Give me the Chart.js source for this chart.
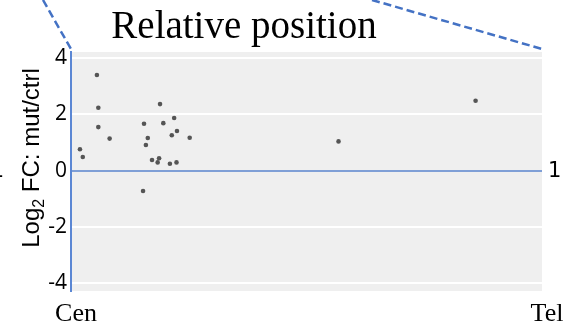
<!DOCTYPE html>
<html>
<head>
<meta charset="utf-8">
<script src="https://cdn.jsdelivr.net/npm/chart.js@4/dist/chart.umd.min.js"></script>
<style>
  html, body { margin: 0; padding: 0; background: #ffffff; }
  #wrap { width: 574px; height: 330px; }
</style>
</head>
<body>
<div id="wrap"><canvas id="c" width="574" height="330"></canvas></div>
<script>
// Relative position along the chromosome (0 = centromere, 1 = telomere)
const relPosition = [0.019, 0.025, 0.055, 0.058, 0.058, 0.082, 0.155, 0.163, 0.159, 0.153,
                     0.172, 0.184, 0.187, 0.189, 0.196, 0.214, 0.219, 0.225, 0.210, 0.224,
                     0.252, 0.568, 0.859];
// Log2 fold change, mutant vs control
const log2FC = [0.76, 0.48, 3.41, 2.24, 1.55, 1.14, 1.67, 1.16, 0.91, -0.73,
                0.375, 0.29, 0.44, 2.37, 1.69, 1.26, 1.875, 1.41, 0.24, 0.29,
                1.17, 1.04, 2.49];
const yTickValues = [-4, -2, 0, 2, 4];
const endLabels = ['Cen', 'Tel'];
const titleText = 'Relative position';
const baselineLabel = '1';

const BLUE = '#4472c4';

const decorPlugin = {
  id: 'decor',
  beforeDraw(chart) {
    const { ctx, chartArea: a } = chart;
    ctx.save();
    ctx.fillStyle = '#efefef';
    ctx.fillRect(a.left, a.top, a.right - a.left, a.bottom - a.top);
    ctx.restore();
  },
  afterDraw(chart) {
    const { ctx, chartArea: a } = chart;
    const y0 = chart.scales.y.getPixelForValue(0);
    ctx.save();

    // zoom-out guide lines
    ctx.strokeStyle = BLUE;
    ctx.lineWidth = 2.5;
    ctx.setLineDash([8, 4]);
    ctx.beginPath();
    ctx.moveTo(43, 0);
    ctx.lineTo(a.left, a.top - 3);
    ctx.moveTo(372, 0);
    ctx.lineTo(a.right, a.top - 3);
    ctx.stroke();
    ctx.setLineDash([]);

    // title
    ctx.fillStyle = '#000';
    ctx.font = '39px "Liberation Serif", serif';
    ctx.textAlign = 'center';
    ctx.textBaseline = 'alphabetic';
    ctx.fillText(titleText, 244, 38);

    // fold-change reference label on both sides of the zero line
    ctx.font = '21px "DejaVu Sans", sans-serif';
    ctx.textBaseline = 'middle';
    ctx.textAlign = 'right';
    ctx.fillText(baselineLabel, 4, y0 + 1);
    ctx.textAlign = 'left';
    ctx.fillText(baselineLabel, 548, y0 + 1);

    // vertical axis title with subscript
    ctx.translate(39, 158);
    ctx.rotate(-Math.PI / 2);
    const big = '24px "Liberation Sans", Arial, sans-serif';
    const small = '16px "Liberation Sans", Arial, sans-serif';
    const parts = [['Log', big, 0], ['2', small, 5], [' FC: mut/ctrl', big, 0]];
    let total = 0;
    parts.forEach(p => { ctx.font = p[1]; total += ctx.measureText(p[0]).width; });
    let x = -total / 2;
    ctx.textAlign = 'left';
    ctx.textBaseline = 'alphabetic';
    parts.forEach(p => {
      ctx.font = p[1];
      ctx.fillText(p[0], x, p[2]);
      x += ctx.measureText(p[0]).width;
    });
    ctx.restore();
  }
};

new Chart(document.getElementById('c'), {
  type: 'scatter',
  data: {
    datasets: [{
      data: relPosition.map((x, i) => ({ x, y: log2FC[i] })),
      backgroundColor: '#555555',
      borderWidth: 0,
      pointRadius: 2.3,
      pointHoverRadius: 2.3
    }]
  },
  options: {
    responsive: false,
    animation: false,
    events: [],
    layout: { padding: { top: 52, right: 32, left: 0, bottom: 0 } },
    plugins: { legend: { display: false }, tooltip: { enabled: false } },
    scales: {
      x: {
        type: 'linear',
        min: 0,
        max: 1,
        afterBuildTicks(scale) { scale.ticks = [{ value: 0 }, { value: 1 }]; },
        afterFit(scale) { scale.height = 39; },
        grid: { display: false, drawTicks: false },
        border: { display: false },
        ticks: {
          callback: (v, i) => endLabels[i],
          font: { family: '"Liberation Serif", serif', size: 26 },
          color: '#000',
          padding: 8,
          labelOffset: 5,
          maxRotation: 0,
          autoSkip: false
        }
      },
      y: {
        min: -4.3,
        max: 4.23,
        afterBuildTicks(scale) { scale.ticks = yTickValues.map(v => ({ value: v })); },
        afterFit(scale) { scale.width = 71; },
        grid: {
          color: c => c.tick && c.tick.value === 0 ? '#7f9fd6' : '#ffffff',
          lineWidth: 2,
          drawTicks: false
        },
        border: { color: '#5b87d4', width: 2 },
        ticks: {
          font: { family: '"Open Sans", sans-serif', size: 21 },
          color: '#000',
          padding: 4
        }
      }
    }
  },
  plugins: [decorPlugin]
});
</script>
</body>
</html>
